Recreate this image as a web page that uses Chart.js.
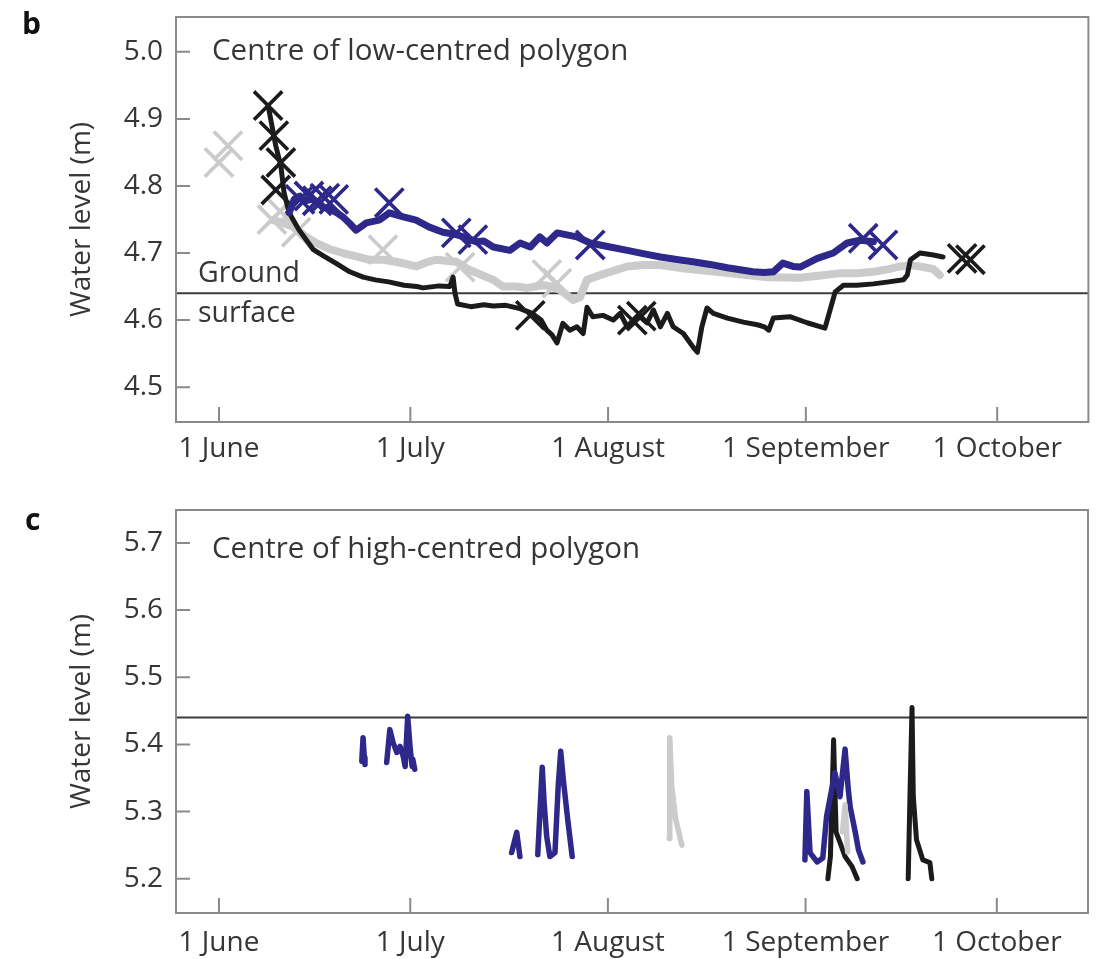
<!DOCTYPE html>
<html lang="en">
<head>
<meta charset="UTF-8">
<title>Water level in polygon centres</title>
<script src="https://cdn.jsdelivr.net/npm/chart.js@4.4.1/dist/chart.umd.min.js"></script>
<style>
  html, body { margin: 0; padding: 0; background: #fff; }
  body { width: 1102px; height: 959px; position: relative; overflow: hidden; }
  canvas { position: absolute; left: 0; }
  /* the cross markers force a 24px minimum padding, so panel b is shifted up by 7px */
  #panelB { top: -7px; }
  #panelC { top: 480px; }
</style>
</head>
<body>
<canvas id="panelB" width="1112" height="487"></canvas>
<canvas id="panelC" width="1102" height="479"></canvas>
<script>
// x is counted in days from 1 June
const monthDays = [0, 30, 61, 92, 122];
const monthLabels = ['1 June', '1 July', '1 August', '1 September', '1 October'];
const dayMin = -6.74, dayMax = 136.3;

const ticksB = [4.5, 4.6, 4.7, 4.8, 4.9, 5.0];
const ticksC = [5.2, 5.3, 5.4, 5.5, 5.6, 5.7];
const groundB = 4.64;
const groundC = 5.44;

// --- panel b: centre of low-centred polygon ---
const bBlackDays = [7.7, 8.3, 8.9, 9.7, 10.2, 11.0, 12.5, 14.8, 16.5, 18.3, 20.5, 22.6, 24.5, 26.6, 29.0, 31.0, 32.0, 34.5, 36.2, 36.7, 37.0, 37.4, 39.5, 41.5, 43.0, 45.0, 47.2, 49.1, 50.5, 51.4, 52.2, 53.0, 53.9, 55.0, 56.1, 57.1, 57.7, 58.6, 60.2, 61.8, 62.9, 64.0, 66.0, 67.1, 68.1, 69.2, 70.3, 71.2, 72.8, 74.3, 75.0, 75.7, 76.5, 77.5, 79.7, 82.2, 84.4, 85.5, 86.2, 86.9, 89.5, 92.2, 95.0, 95.8, 96.6, 97.9, 100.0, 102.6, 105.0, 107.3, 107.9, 108.4, 109.9, 112.0, 113.5];
const bBlackLevels = [4.92, 4.89, 4.86, 4.83, 4.79, 4.76, 4.735, 4.705, 4.695, 4.685, 4.672, 4.664, 4.66, 4.657, 4.652, 4.65, 4.648, 4.651, 4.65, 4.664, 4.64, 4.624, 4.62, 4.623, 4.621, 4.622, 4.617, 4.61, 4.6, 4.585, 4.578, 4.566, 4.595, 4.585, 4.59, 4.58, 4.619, 4.605, 4.607, 4.6, 4.61, 4.59, 4.605, 4.596, 4.615, 4.59, 4.61, 4.59, 4.58, 4.56, 4.552, 4.59, 4.618, 4.61, 4.603, 4.597, 4.593, 4.59, 4.585, 4.603, 4.605, 4.596, 4.588, 4.615, 4.642, 4.652, 4.652, 4.654, 4.657, 4.66, 4.667, 4.69, 4.7, 4.697, 4.694];
const bBlackMarkDays = [7.7, 8.6, 9.7, 8.9, 48.8, 64.8, 66.2, 116.5, 117.8];
const bBlackMarkLevels = [4.92, 4.875, 4.835, 4.794, 4.607, 4.600, 4.606, 4.692, 4.690];

const bGreyDays = [8.5, 10.0, 11.6, 13.5, 15.2, 17.3, 19.4, 21.5, 23.5, 25.7, 27.8, 30.9, 32.5, 34.0, 37.2, 39.2, 41.0, 43.0, 44.5, 46.5, 48.3, 50.8, 52.0, 53.5, 55.5, 56.6, 57.7, 59.7, 62.4, 64.0, 66.5, 69.2, 73.0, 78.0, 82.0, 86.0, 91.0, 94.0, 97.4, 100.0, 102.6, 105.0, 106.8, 108.4, 110.5, 112.0, 113.0];
const bGreyLevels = [4.749, 4.745, 4.739, 4.725, 4.715, 4.706, 4.7, 4.695, 4.69, 4.69, 4.687, 4.68, 4.686, 4.69, 4.687, 4.675, 4.668, 4.66, 4.65, 4.65, 4.648, 4.652, 4.65, 4.645, 4.63, 4.634, 4.66, 4.667, 4.675, 4.68, 4.682, 4.682, 4.677, 4.672, 4.668, 4.664, 4.663, 4.666, 4.67, 4.67, 4.672, 4.676, 4.68, 4.682, 4.679, 4.676, 4.667];
const bGreyMarkDays = [0.0, 1.4, 8.3, 9.6, 12.1, 25.7, 37.8, 51.4, 53.0];
const bGreyMarkLevels = [4.835, 4.86, 4.75, 4.762, 4.731, 4.705, 4.679, 4.668, 4.655];

const bBlueDays = [11.0, 11.8, 12.7, 13.5, 14.5, 15.5, 16.3, 17.5, 18.5, 19.4, 20.5, 21.5, 23.1, 25.1, 26.7, 28.9, 30.9, 32.9, 35.1, 37.0, 38.3, 40.3, 41.5, 43.0, 45.6, 47.2, 48.8, 50.3, 51.4, 53.0, 56.1, 58.2, 61.3, 64.0, 66.5, 69.2, 72.0, 74.3, 77.0, 79.7, 83.7, 85.5, 86.9, 88.4, 90.0, 91.1, 93.8, 96.3, 98.5, 100.5, 102.6];
const bBlueLevels = [4.76, 4.78, 4.785, 4.778, 4.78, 4.776, 4.769, 4.765, 4.76, 4.754, 4.744, 4.734, 4.745, 4.749, 4.76, 4.754, 4.749, 4.739, 4.731, 4.728, 4.724, 4.717, 4.718, 4.709, 4.704, 4.715, 4.709, 4.724, 4.715, 4.73, 4.724, 4.715, 4.709, 4.704, 4.699, 4.694, 4.69, 4.687, 4.683, 4.678, 4.672, 4.671, 4.672, 4.685, 4.68, 4.679, 4.692, 4.7, 4.715, 4.719, 4.717];
const bBlueMarkDays = [12.7, 14.1, 15.4, 16.6, 18.0, 26.7, 37.2, 39.8, 58.2, 101.0, 104.1];
const bBlueMarkLevels = [4.78, 4.785, 4.778, 4.782, 4.78, 4.775, 4.73, 4.72, 4.712, 4.722, 4.712];

// --- panel c: centre of high-centred polygon (null = gap in record) ---
const cBlueDays = [22.4, 22.6, 22.8, 22.9, null, 26.3, 26.8, 27.3, 27.9, 28.4, 28.9, 29.2, 29.6, 30.0, 30.3, 30.4, 30.7, null, 45.9, 46.7, 47.2, null, 50.0, 50.7, 51.0, 51.4, 51.9, 52.7, 53.2, 53.6, 54.0, 54.7, 55.4, null, 91.9, 92.2, 92.7, 93.8, 94.7, 95.3, 96.1, 96.6, 97.4, 98.2, 98.7, 99.0, 99.8, 100.3, 101.0];
const cBlueLevels = [5.375, 5.41, 5.38, 5.37, null, 5.373, 5.422, 5.403, 5.388, 5.397, 5.382, 5.367, 5.442, 5.393, 5.367, 5.378, 5.363, null, 5.239, 5.269, 5.233, null, 5.236, 5.366, 5.313, 5.263, 5.233, 5.239, 5.337, 5.39, 5.348, 5.288, 5.233, null, 5.228, 5.33, 5.239, 5.225, 5.231, 5.293, 5.333, 5.358, 5.322, 5.393, 5.333, 5.307, 5.269, 5.243, 5.225];
const cGreyDays = [70.6, 70.7, 71.0, 71.6, 72.6, null, 97.8, 98.2, 98.6];
const cGreyLevels = [5.26, 5.41, 5.34, 5.29, 5.25, null, 5.27, 5.31, 5.24];
const cBlackDays = [95.5, 95.9, 96.4, 96.6, 96.8, 97.4, 98.2, 99.3, 100.1, null, 108.1, 108.4, 108.7, 108.9, 109.4, 110.4, 111.5, 111.8];
const cBlackLevels = [5.2, 5.233, 5.407, 5.333, 5.269, 5.254, 5.233, 5.218, 5.2, null, 5.2, 5.333, 5.455, 5.322, 5.258, 5.228, 5.224, 5.2];

const BLUE = '#2d2889';
const GREY = '#cbcbcb';
const BLACK = '#1b1b1b';
const TEXT = '#363636';
const FONT = '"Open Sans", "Noto Sans", sans-serif';

function pts(days, levels) {
    return days.map((d, i) => ({ x: d, y: levels[i] }));
}

function trace(days, levels, color, width, order) {
    return {
        data: pts(days, levels),
        borderColor: color,
        borderWidth: width,
        borderJoinStyle: 'round',
        borderCapStyle: 'round',
        pointRadius: 0,
        tension: 0,
        spanGaps: false,
        order: order
    };
}

function marks(days, levels, color, order) {
    return {
        data: pts(days, levels),
        showLine: false,
        pointStyle: 'crossRot',
        pointRadius: 20,
        pointBorderWidth: 3.6,
        pointBorderColor: color,
        pointBackgroundColor: color,
        order: order
    };
}

function groundLine(level) {
    return {
        data: [{ x: dayMin, y: level }, { x: dayMax, y: level }],
        borderColor: '#3c3c3c',
        borderWidth: 2,
        pointRadius: 0,
        order: 20
    };
}

// box, inward tick marks and the texts inside the panel
const framePlugin = {
    id: 'frame',
    afterDraw(chart, args, opts) {
        const { ctx, chartArea: a, scales: { x, y } } = chart;
        ctx.save();
        ctx.strokeStyle = '#8a8a8a';
        ctx.lineWidth = 2;
        ctx.strokeRect(a.left, a.top, a.right - a.left, a.bottom - a.top);
        ctx.beginPath();
        y.ticks.forEach(t => {
            const py = y.getPixelForValue(t.value);
            ctx.moveTo(a.left, py);
            ctx.lineTo(a.left + 14, py);
        });
        x.ticks.forEach(t => {
            const px = x.getPixelForValue(t.value);
            ctx.moveTo(px, a.bottom);
            ctx.lineTo(px, a.bottom - 15);
        });
        ctx.stroke();

        ctx.fillStyle = TEXT;
        ctx.textBaseline = 'alphabetic';
        opts.notes.forEach(n => {
            ctx.font = n.size + 'px ' + FONT;
            ctx.fillText(n.text, n.x, n.y);
        });
        ctx.fillStyle = '#111';
        ctx.font = 'bold 30px ' + FONT;
        ctx.fillText(opts.letter.text, opts.letter.x, opts.letter.y);
        ctx.restore();
    }
};

function makeChart(id, datasets, yMin, yMax, yTicks, xHeight, xPad, topPad, notes, letter) {
    return new Chart(document.getElementById(id), {
        type: 'line',
        data: { datasets: datasets },
        options: {
            responsive: false,
            animation: false,
            devicePixelRatio: 1,
            layout: { padding: { top: topPad, right: 14, left: 0, bottom: 0 } },
            plugins: {
                legend: { display: false },
                tooltip: { enabled: false },
                frame: { notes: notes, letter: letter }
            },
            scales: {
                x: {
                    type: 'linear',
                    min: dayMin,
                    max: dayMax,
                    afterBuildTicks: s => { s.ticks = monthDays.map(v => ({ value: v })); },
                    afterFit: s => { s.height = xHeight; s.paddingLeft = 0; s.paddingRight = 0; },
                    grid: { display: false, drawTicks: false },
                    border: { display: false },
                    ticks: {
                        padding: xPad,
                        color: TEXT,
                        font: { family: FONT, size: 28 },
                        maxRotation: 0,
                        autoSkip: false,
                        callback: v => monthLabels[monthDays.indexOf(v)]
                    }
                },
                y: {
                    min: yMin,
                    max: yMax,
                    afterBuildTicks: s => { s.ticks = yTicks.map(v => ({ value: v })); },
                    afterFit: s => { s.width = 176; s.paddingTop = 0; s.paddingBottom = 0; },
                    grid: { display: false, drawTicks: false },
                    border: { display: false },
                    ticks: {
                        padding: 13,
                        color: TEXT,
                        font: { family: FONT, size: 28 },
                        callback: v => v.toFixed(1)
                    },
                    title: {
                        display: true,
                        text: 'Water level (m)',
                        color: TEXT,
                        font: { family: FONT, size: 28 },
                        padding: { top: 65, bottom: 0 }
                    }
                }
            }
        },
        plugins: [framePlugin]
    });
}

makeChart('panelB', [
    marks(bBlueMarkDays, bBlueMarkLevels, BLUE, 1),
    trace(bBlueDays, bBlueLevels, BLUE, 7, 2),
    marks(bBlackMarkDays, bBlackMarkLevels, BLACK, 3),
    trace(bBlackDays, bBlackLevels, BLACK, 5, 4),
    marks(bGreyMarkDays, bGreyMarkLevels, GREY, 5),
    trace(bGreyDays, bGreyLevels, GREY, 8, 6),
    groundLine(groundB)
], 4.448, 5.052, ticksB, 58, 10, 24,
    [
        { text: 'Centre of low-centred polygon', x: 212, y: 67, size: 29.5 },
        { text: 'Ground', x: 198, y: 289, size: 28.5 },
        { text: 'surface', x: 198, y: 329, size: 28.5 }
    ],
    { text: 'b', x: 22, y: 41 });

makeChart('panelC', [
    trace(cGreyDays, cGreyLevels, GREY, 5.5, 1),
    trace(cBlueDays, cBlueLevels, BLUE, 5.5, 2),
    trace(cBlackDays, cBlackLevels, BLACK, 5, 3),
    groundLine(groundC)
], 5.149, 5.749, ticksC, 46, 13, 30,
    [
        { text: 'Centre of high-centred polygon', x: 212, y: 78, size: 29.5 }
    ],
    { text: 'c', x: 25, y: 50 });
</script>
</body>
</html>
